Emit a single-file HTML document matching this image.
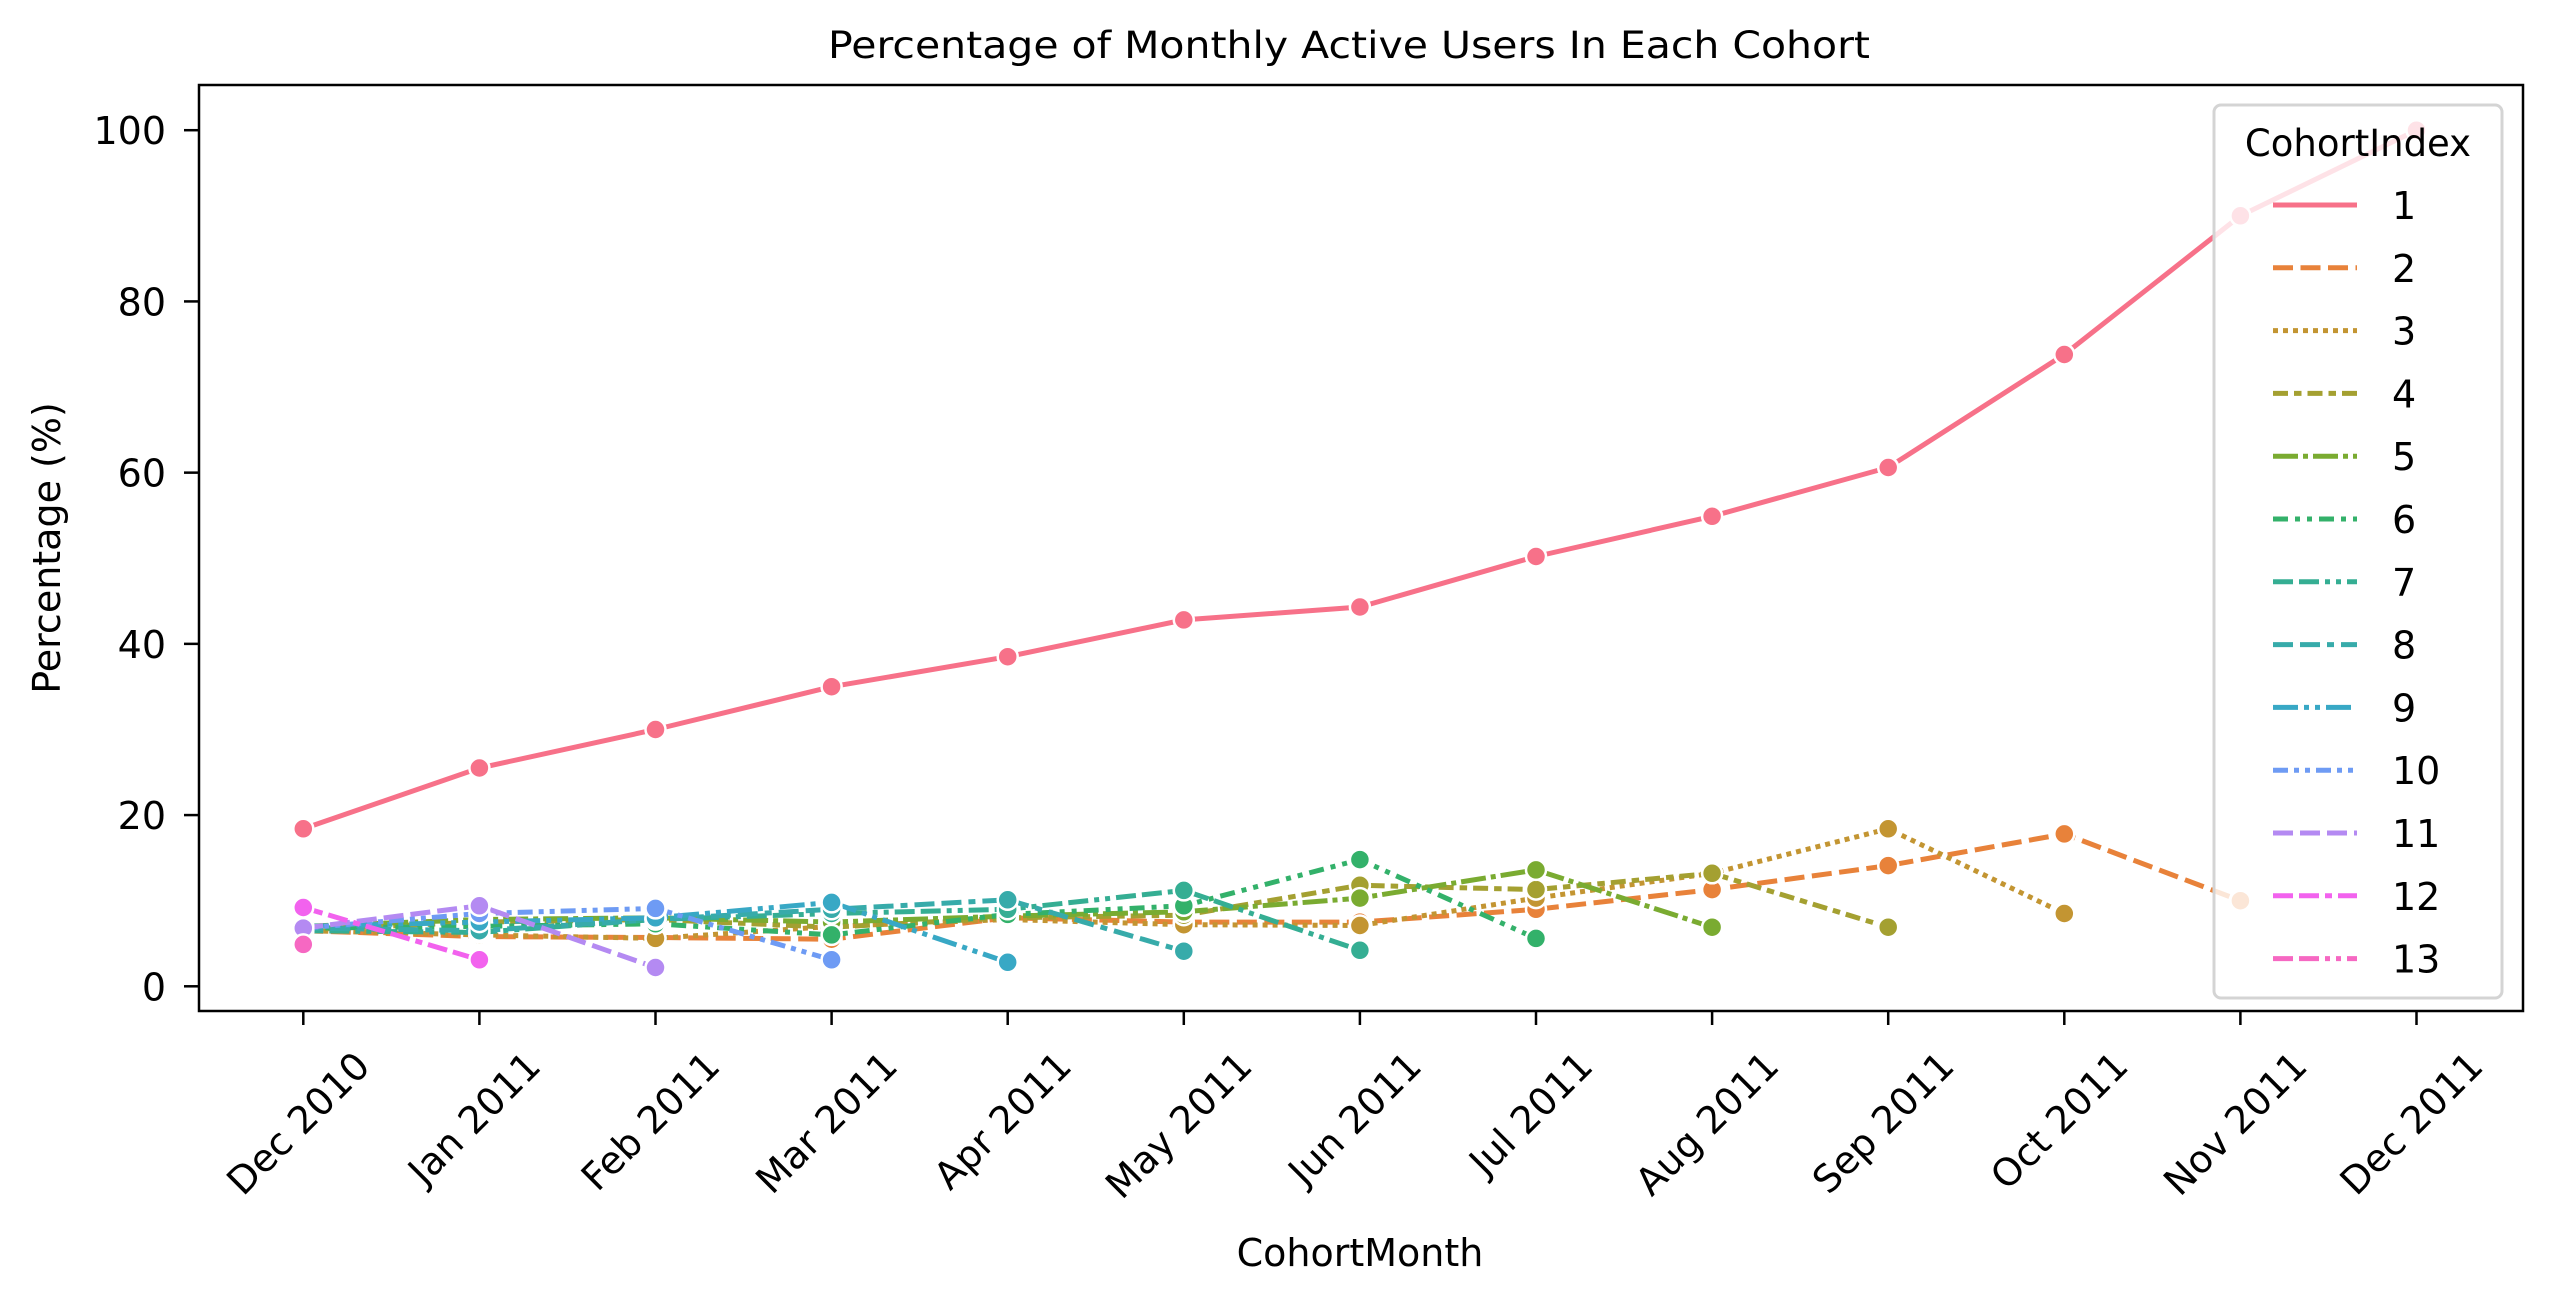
<!DOCTYPE html>
<html><head><meta charset="utf-8">
<style>
html,body{margin:0;padding:0;background:#fff;}
svg{display:block;font-family:"DejaVu Sans","Liberation Sans",sans-serif;}
</style></head>
<body>
<svg id="chart" width="2552" height="1304" viewBox="0 0 2552 1304" xmlns="http://www.w3.org/2000/svg">
<rect x="0" y="0" width="2552" height="1304" fill="#fff"/>
<text x="1349" y="58" font-size="37" text-anchor="middle" textLength="1042" lengthAdjust="spacingAndGlyphs">Percentage of Monthly Active Users In Each Cohort</text>
<text transform="translate(60,548) rotate(-90)" font-size="38" text-anchor="middle">Percentage (%)</text>
<text x="1360" y="1266" font-size="38" text-anchor="middle">CohortMonth</text>
<g id="plot"></g>
<g id="xticks"></g>
<g id="yticks"></g>
<rect x="199" y="85" width="2324" height="926" fill="none" stroke="#000" stroke-width="2.5"/>
<g id="legend"></g>
</svg>
<script>
const months = ["Dec 2010","Jan 2011","Feb 2011","Mar 2011","Apr 2011","May 2011","Jun 2011","Jul 2011","Aug 2011","Sep 2011","Oct 2011","Nov 2011","Dec 2011"];
const yTicks = [0,20,40,60,80,100];
const cohortIndex = ["1","2","3","4","5","6","7","8","9","10","11","12","13"];
const s1 = [18.4,25.5,30.0,35.0,38.5,42.8,44.3,50.2,54.9,60.6,73.8,90.0,100.0];
const s2 = [6.5,5.8,5.7,5.5,8.0,7.5,7.5,9.0,11.3,14.1,17.8,10.0];
const s3 = [6.5,6.0,5.6,7.0,7.8,7.2,7.1,10.3,13.2,18.4,8.5];
const s4 = [6.6,7.5,7.8,6.9,8.0,8.3,11.8,11.3,13.2,6.9];
const s5 = [7.0,7.8,8.0,7.5,8.2,8.7,10.3,13.6,6.9];
const s6 = [6.8,7.0,7.3,6.0,8.4,9.4,14.8,5.6];
const s7 = [6.5,6.3,7.8,8.5,9.0,11.2,4.2];
const s8 = [6.8,6.5,7.8,9.0,10.1,4.1];
const s9 = [7.0,7.5,8.0,9.8,2.8];
const s10 = [6.8,8.5,9.1,3.1];
const s11 = [6.8,9.4,2.2];
const s12 = [9.2,3.1];
const s13 = [4.9];
const seriesData = [s1,s2,s3,s4,s5,s6,s7,s8,s9,s10,s11,s12,s13];

const colors = ["#f77189","#e8823a","#c39532","#a4a031","#7aab31","#33b16a","#35ae93","#37abaa","#38a8c5","#6e9bf4","#b48af2","#f262ee","#f668c2"];
const dashes = ["", "20 7.5", "5 5", "15 6 7.5 6", "25 5 5 5", "15 7 5 7 5 7", "20 6 20 6 5 6 5 6", "20 7 20 7 7 7", "25 6 5 6 5 6", "15 6 5 6 5 6", "20 7", "20 6 20 6 7 6", "20 6 20 6 5 6 5 6"];

const NS = "http://www.w3.org/2000/svg";
const L = 199, R = 2523, T = 85, B = 1011;
const x0 = 303.3, dx = 176.1;
const y0 = 986.3, y100 = 130.2;
function xs(i){ return x0 + i*dx; }
function ys(v){ return y0 + (y100 - y0)*v/100; }
function mk(tag, attrs, parent){ const e = document.createElementNS(NS, tag); for (const k in attrs) e.setAttribute(k, attrs[k]); parent.appendChild(e); return e; }

const plot = document.getElementById("plot");
seriesData.forEach((arr, si) => {
  if (arr.length > 1) {
    const d = arr.map((v,i)=> (i?"L":"M") + xs(i).toFixed(1) + "," + ys(v).toFixed(1)).join(" ");
    const p = mk("path", {d:d, fill:"none", stroke:colors[si], "stroke-width":5, "stroke-dasharray":dashes[si], "stroke-linecap":"butt"}, plot);
    
    
  }
});
seriesData.forEach((arr, si) => {
  arr.forEach((v,i) => {
    const c = mk("circle", {cx:xs(i).toFixed(1), cy:ys(v).toFixed(1), r:10, fill:colors[si], stroke:"#fff", "stroke-width":2.5}, plot);
    
    
  });
});

const xg = document.getElementById("xticks");
months.forEach((m,i) => {
  const t = mk("line", {x1:xs(i), x2:xs(i), y1:B, y2:B+14, stroke:"#000", "stroke-width":2.5}, xg);
  
  
  const tx = mk("text", {x:0, y:0, "font-size":38, "text-anchor":"middle", "dominant-baseline":"central"}, xg);
  tx.textContent = m;
  
  
  const w = tx.getComputedTextLength();
  const H = (w + 34) * 0.7071;
  const cx = xs(i) - 5, cy = B + 36 + H/2;
  tx.setAttribute("transform", "translate(" + cx.toFixed(1) + "," + cy.toFixed(1) + ") rotate(-45)");
});
const yg = document.getElementById("yticks");
yTicks.forEach(v => {
  const t = mk("line", {x1:L-15, x2:L, y1:ys(v), y2:ys(v), stroke:"#000", "stroke-width":2.5}, yg);
  
  
  const tx = mk("text", {x:L-33, y:ys(v)+14, "font-size":38, "text-anchor":"end"}, yg);
  tx.textContent = String(v);
  
  
});

const lg = document.getElementById("legend");
const box = mk("rect", {x:2214, y:105, width:288, height:893, rx:7, fill:"#fff", "fill-opacity":0.8, stroke:"#d4d4d4", "stroke-width":3}, lg);


const lt = mk("text", {x:2358, y:156, "font-size":37, "text-anchor":"middle"}, lg);
lt.textContent = "CohortIndex";


cohortIndex.forEach((c, si) => {
  const y = 205 + si*62.8;
  const ln = mk("line", {x1:2273, x2:2357, y1:y, y2:y, stroke:colors[si], "stroke-width":5, "stroke-dasharray":dashes[si]}, lg);
  
  
  const t = mk("text", {x:2392, y:y+14, "font-size":38}, lg);
  t.textContent = c;
  
  
});
</script>
</body></html>
